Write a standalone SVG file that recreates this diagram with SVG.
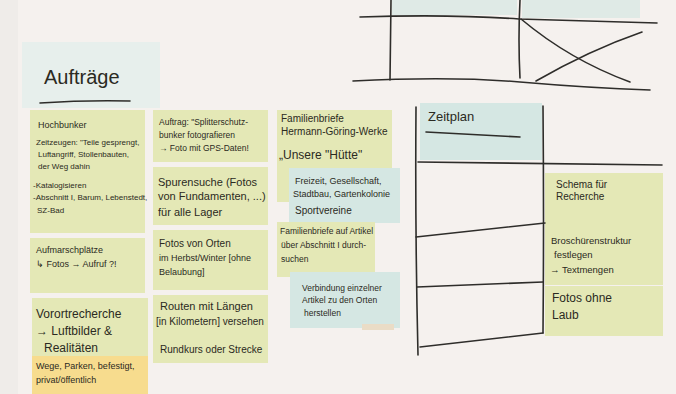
<svg xmlns="http://www.w3.org/2000/svg" width="676" height="394" viewBox="0 0 676 394">
<style>
.y{fill:#e4e8b6}
.b{fill:#d5e7e3}
.o{fill:#f7dc8e}
.t{font-family:"Liberation Sans",Arial,sans-serif;fill:#2b2a22;font-size:9px}
.m{font-size:11px}
.l{font-size:13px}
.ink{stroke:#2e2d2a;stroke-width:1.6;fill:none;stroke-linecap:round}
</style>
<rect width="676" height="394" fill="#f5f1ee"/>
<rect x="0" y="0" width="18" height="394" fill="#efece9"/>

<g id="top-notes">
<rect x="392" y="0" width="125" height="15" class="b" opacity="0.7"/>
<rect x="522" y="0" width="118" height="18" class="b" opacity="0.7"/>
</g>

<g id="header">
<rect x="22" y="42" width="138" height="66" fill="#e7efec"/>
<text x="44" y="84" class="t" style="font-size:20px">Aufträge</text>
</g>

<g id="n-hochbunker">
<rect x="30" y="110" width="115" height="123" class="y"/>
<text class="t"><tspan x="38" y="128">Hochbunker</tspan><tspan x="36" y="145" style="font-size:8px">Zeitzeugen: "Teile gesprengt,</tspan><tspan x="38" y="157" style="font-size:8px">Luftangriff, Stollenbauten,</tspan><tspan x="38" y="169" style="font-size:8px">der Weg dahin</tspan><tspan x="33" y="188" style="font-size:8px">-Katalogisieren</tspan><tspan x="33" y="200" style="font-size:8px">-Abschnitt I, Barum, Lebenstedt,</tspan><tspan x="37" y="213" style="font-size:8px">SZ-Bad</tspan></text>
</g>

<g id="n-aufmarsch">
<rect x="30" y="238" width="115" height="55" class="y"/>
<text class="t"><tspan x="36" y="253">Aufmarschplätze</tspan><tspan x="36" y="267">↳ Fotos → Aufruf ?!</tspan></text>
</g>

<g id="n-vorort">
<rect x="32" y="298" width="116" height="60" class="y"/>
<rect x="32" y="356" width="116" height="38" class="o"/>
<text class="t m"><tspan x="36" y="318" style="font-size:12px">Vorortrecherche</tspan><tspan x="36" y="335" style="font-size:12px">→ Luftbilder &amp;</tspan><tspan x="44" y="352" style="font-size:12px">Realitäten</tspan></text>
<text class="t"><tspan x="36" y="369">Wege, Parken, befestigt,</tspan><tspan x="36" y="383">privat/öffentlich</tspan></text>
</g>

<g id="n-auftrag">
<rect x="153" y="110" width="115" height="52" class="y"/>
<text class="t" style="font-size:8.5px"><tspan x="159" y="125">Auftrag: "Splitterschutz-</tspan><tspan x="159" y="138">bunker fotografieren</tspan><tspan x="159" y="151">→ Foto mit GPS-Daten!</tspan></text>
</g>

<g id="n-spuren">
<rect x="153" y="167" width="115" height="58" class="y"/>
<text class="t m"><tspan x="158" y="186">Spurensuche (Fotos</tspan><tspan x="158" y="200">von Fundamenten, ...)</tspan><tspan x="158" y="216">für alle Lager</tspan></text>
</g>

<g id="n-fotos-orte">
<rect x="153" y="230" width="115" height="60" class="y"/>
<text class="t"><tspan x="159" y="247" style="font-size:10px">Fotos von Orten</tspan><tspan x="159" y="261">im Herbst/Winter [ohne</tspan><tspan x="159" y="275">Belaubung]</tspan></text>
</g>

<g id="n-routen">
<rect x="153" y="295" width="115" height="68" class="y"/>
<text class="t m"><tspan x="160" y="310">Routen mit Längen</tspan><tspan x="156" y="325" style="font-size:10px">[in Kilometern] versehen</tspan><tspan x="160" y="353" style="font-size:10px">Rundkurs oder Strecke</tspan></text>
</g>

<g id="n-familienbriefe">
<rect x="277" y="110" width="115" height="92" class="y"/>
<text class="t" style="font-size:10px"><tspan x="281" y="122">Familienbriefe</tspan><tspan x="281" y="135">Hermann-Göring-Werke</tspan><tspan x="279" y="159" style="font-size:12px">„Unsere "Hütte"</tspan></text>
</g>

<g id="n-freizeit">
<rect x="289" y="168" width="111" height="55" class="b"/>
<text class="t"><tspan x="295" y="184">Freizeit, Gesellschaft,</tspan><tspan x="293" y="197">Stadtbau, Gartenkolonie</tspan><tspan x="295" y="214" style="font-size:10px">Sportvereine</tspan></text>
</g>

<g id="n-familienbriefe-artikel">
<rect x="277" y="222" width="98" height="55" class="y"/>
<text class="t" style="font-size:8.5px"><tspan x="280" y="234">Familienbriefe auf Artikel</tspan><tspan x="281" y="248">über Abschnitt I durch-</tspan><tspan x="281" y="262">suchen</tspan></text>
</g>

<g id="n-verbindung">
<rect x="290" y="272" width="110" height="56" class="b"/>
<rect x="362" y="324" width="32" height="6" fill="#eadcc6"/>
<text class="t" style="font-size:8.5px"><tspan x="302" y="291">Verbindung einzelner</tspan><tspan x="302" y="303">Artikel zu den Orten</tspan><tspan x="304" y="316">herstellen</tspan></text>
</g>

<g id="n-zeitplan">
<rect x="420" y="103" width="122" height="57" class="b"/>
<text x="428" y="121" class="t" style="font-size:13px">Zeitplan</text>
</g>

<g id="n-schema">
<rect x="545" y="173" width="118" height="54" class="y"/>
<text class="t"><tspan x="556" y="188" style="font-size:10px">Schema für</tspan><tspan x="556" y="200" style="font-size:10px">Recherche</tspan></text>
</g>

<g id="n-broschuere">
<rect x="545" y="227" width="118" height="58" class="y"/>
<text class="t"><tspan x="551" y="244" style="font-size:9.5px">Broschürenstruktur</tspan><tspan x="554" y="258" style="font-size:9.5px">festlegen</tspan><tspan x="550" y="273" style="font-size:9.5px">→ Textmengen</tspan></text>
</g>

<g id="n-fotos-laub">
<rect x="545" y="286" width="118" height="50" class="y"/>
<text class="t"><tspan x="552" y="302" style="font-size:12px">Fotos ohne</tspan><tspan x="552" y="319" style="font-size:12px">Laub</tspan></text>
</g>

<g id="connectors">
<path class="ink" d="M40 103 Q85 100 130 101"/>
<path class="ink" d="M360 17 Q450 14 519 19 Q590 21 657 23"/>
<path class="ink" d="M391 0 L390 80"/>
<path class="ink" d="M520 0 Q518 40 520 78"/>
<path class="ink" d="M353 81 Q450 76 520 82 Q590 88 650 90"/>
<path class="ink" d="M521 19 Q570 60 630 82" stroke-width="1.3"/>
<path class="ink" d="M536 81 Q590 50 642 32" stroke-width="1.3"/>
<path class="ink" d="M426 132 L520 137" stroke-width="2"/>
<path class="ink" d="M416 107 Q415 230 418 355"/>
<path class="ink" d="M543 106 Q544 220 543 333"/>
<path class="ink" d="M418 162 Q540 164 662 165"/>
<path class="ink" d="M416 237 L545 223"/>
<path class="ink" d="M417 287 L543 282"/>
<path class="ink" d="M420 347 L543 333"/>
</g>
</svg>
